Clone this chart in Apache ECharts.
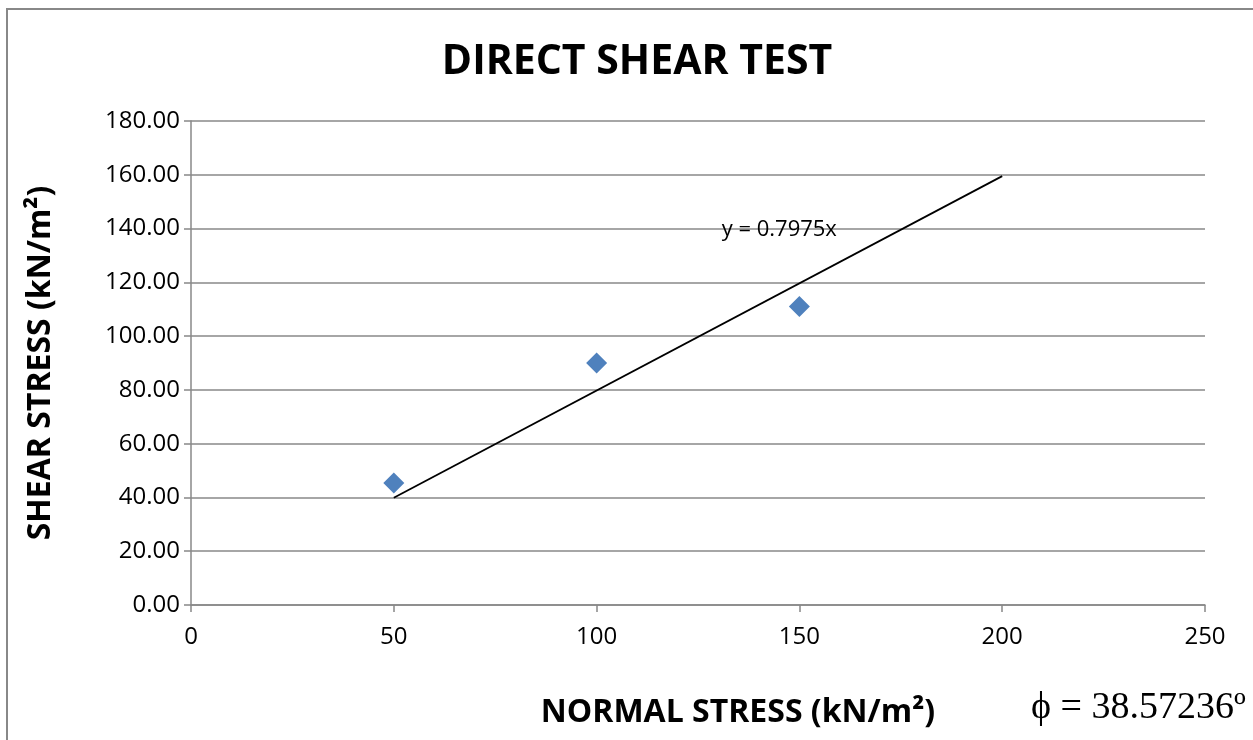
<!DOCTYPE html>
<html>
<head>
<meta charset="utf-8">
<script src="https://cdn.jsdelivr.net/npm/echarts@6/dist/echarts.min.js"></script>
<style>
html,body{margin:0;padding:0;background:#fff;}
#chart{width:1253px;height:740px;}
</style>
</head>
<body>
<div id="chart"></div>
<script>
var normalStress = [50, 100, 150];
var shearStress = [45.4, 90.0, 111.0];
var slope = 0.7975;
var trendX = [50, 200];
var xTicks = [0, 50, 100, 150, 200, 250];
var yTicks = [0, 20, 40, 60, 80, 100, 120, 140, 160, 180];
var titleText = 'DIRECT SHEAR TEST';
var xTitle = 'NORMAL STRESS (kN/m²)';
var yTitle = 'SHEAR STRESS (kN/m²)';
var eqText = 'y = 0.7975x';
var phiText = 'ϕ = 38.57236º';

var font = '"Open Sans", "Noto Sans", sans-serif';
var chart = echarts.init(document.getElementById('chart'));
var points = normalStress.map(function (x, i) { return [x, shearStress[i]]; });
var trend = trendX.map(function (x) { return [x, slope * x]; });

chart.setOption({
  animation: false,
  backgroundColor: '#fff',
  title: {
    text: titleText, left: 632, top: 37, textAlign: 'center',
    textStyle: { fontFamily: font, fontWeight: 'bold', fontSize: 41, color: '#000' }
  },
  grid: { left: 191, right: 48, top: 121, bottom: 135 },
  xAxis: {
    type: 'value', min: 0, max: 250, interval: 50,
    axisLine: { show: true, lineStyle: { color: '#888', width: 1.5 } },
    axisTick: { show: true, inside: false, length: 7, lineStyle: { color: '#888', width: 1.5 } },
    splitLine: { show: false },
    axisLabel: { color: '#000', fontFamily: font, fontSize: 24, margin: 20 },
    name: xTitle, nameLocation: 'middle', nameGap: 92,
    nameTextStyle: { fontFamily: font, fontWeight: 'bold', fontSize: 32, color: '#000', padding: [0, 0, 0, 80] }
  },
  yAxis: {
    type: 'value', min: 0, max: 180, interval: 20,
    axisLine: { show: true, lineStyle: { color: '#888', width: 1.5 } },
    axisTick: { show: true, length: 7, lineStyle: { color: '#888', width: 1.5 } },
    splitLine: { show: true, lineStyle: { color: '#888', width: 1.5 } },
    axisLabel: { color: '#000', fontFamily: font, fontSize: 24, margin: 11,
      formatter: function (v) { return v.toFixed(2); } },
    name: yTitle, nameLocation: 'middle', nameGap: 134, nameRotate: 90,
    nameTextStyle: { fontFamily: font, fontWeight: 'bold', fontSize: 32, color: '#000' }
  },
  graphic: [
    { type: 'rect', shape: { x: 7, y: 9, width: 1260, height: 760 },
      style: { fill: 'none', stroke: '#888', lineWidth: 2 }, silent: true, z: -1 },
    { type: 'text', left: 1031, top: 689,
      style: { text: phiText, font: '38px "Liberation Serif", "DejaVu Serif", serif', fill: '#000' } }
  ],
  series: [
    {
      type: 'line', data: trend, symbol: 'none', z: 2,
      lineStyle: { color: '#000', width: 1.8 },
      markPoint: {
        symbol: 'rect', symbolSize: 0,
        data: [{ coord: [130, 140], value: eqText,
          label: { show: true, formatter: eqText, position: 'inside', offset: [61, 1],
            color: '#000', fontFamily: font, fontSize: 22 } }]
      }
    },
    {
      type: 'scatter', data: points, symbol: 'diamond', symbolSize: 21, z: 3,
      itemStyle: { color: '#4F81BD', opacity: 1 }
    }
  ]
});
</script>
</body>
</html>
